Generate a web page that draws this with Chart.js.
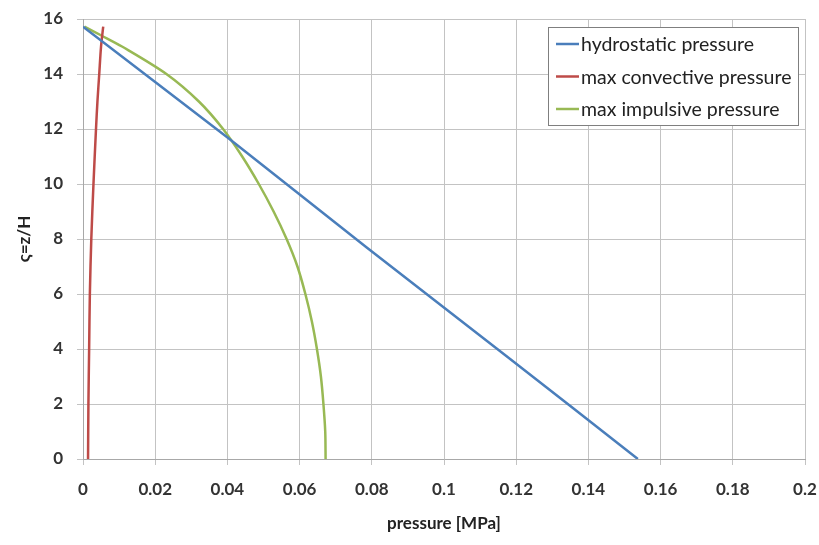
<!DOCTYPE html>
<html lang="en">
<head>
    <meta charset="UTF-8">
    <script src="https://cdn.jsdelivr.net/npm/chart.js"></script>
    <title>Pressure distribution</title>
    <style>
        body { margin: 0; background: #fff; }
        #wrap { width: 819px; height: 545px; }
    </style>
</head>
<body>
    <div id="wrap"><canvas id="pChart" width="819" height="545"></canvas></div>
    <script>
        // series labels
        var seriesNames = ['hydrostatic pressure', 'max convective pressure', 'max impulsive pressure'];

        // hydrostatic pressure (straight line)
        var hydroP = [0, 0.0403, 0.0785, 0.1177, 0.1537];
        var hydroZ = [15.72, 11.66, 7.7, 3.7, 0];

        // max convective pressure
        var convP = [0.0014, 0.0015, 0.0017, 0.0019, 0.0023, 0.0029, 0.0036, 0.0040, 0.0045, 0.0050, 0.0056];
        var convZ = [0, 2, 4, 6, 8, 10, 12, 13, 14, 15, 15.72];

        // max impulsive pressure (top to bottom)
        var impP = [0.0004, 0.0051, 0.0108, 0.0231, 0.0321, 0.0388, 0.0441, 0.0487, 0.0528, 0.0564, 0.0594, 0.0616, 0.0634, 0.0648, 0.0659, 0.0666, 0.0671, 0.0672];
        var impZ = [15.72, 15.4, 15, 14, 13, 12, 11, 10, 9, 8, 7, 6, 5, 4, 3, 2, 1, 0];

        var xTicks = [0, 0.02, 0.04, 0.06, 0.08, 0.1, 0.12, 0.14, 0.16, 0.18, 0.2];
        var yTicks = [0, 2, 4, 6, 8, 10, 12, 14, 16];

        var colors = ['#4a7ebb', '#be4b48', '#98b954'];

        function toPoints(xs, ys) {
            return xs.map(function (x, i) { return {x: x, y: ys[i]}; });
        }

        // legend drawn inside the plot area, excel style
        var boxLegend = {
            id: 'boxLegend',
            afterDraw: function (chart) {
                var c = chart.ctx;
                var left = 548, top = 27, w = 250, h = 98;
                c.save();
                c.fillStyle = '#fff';
                c.fillRect(left, top, w, h);
                c.strokeStyle = '#7f7f7f';
                c.lineWidth = 1;
                c.strokeRect(left + 0.5, top + 0.5, w, h);
                c.font = '19.5px Lato';
                c.textBaseline = 'middle';
                chart.data.datasets.forEach(function (ds, i) {
                    var y = 44 + i * 32.5;
                    c.strokeStyle = ds.borderColor;
                    c.lineWidth = 2.5;
                    c.beginPath();
                    c.moveTo(556, y);
                    c.lineTo(579, y);
                    c.stroke();
                    c.fillStyle = '#222';
                    c.fillText(ds.label, 581, y + 1);
                });
                c.restore();
            }
        };

        var ctx = document.getElementById('pChart').getContext('2d');
        var chart = new Chart(ctx, {
            type: 'scatter',
            data: {
                datasets: [
                    {label: seriesNames[0], data: toPoints(hydroP, hydroZ)},
                    {label: seriesNames[1], data: toPoints(convP, convZ)},
                    {label: seriesNames[2], data: toPoints(impP, impZ)}
                ].map(function (d, i) {
                    d.borderColor = colors[i];
                    d.backgroundColor = colors[i];
                    d.borderWidth = 2.5;
                    d.showLine = true;
                    d.tension = 0.3;
                    d.pointRadius = 0;
                    return d;
                })
            },
            options: {
                responsive: false,
                animation: false,
                layout: {padding: {top: 19, right: 14, left: 0, bottom: 0}},
                plugins: {
                    legend: {display: false},
                    tooltip: {enabled: false}
                },
                scales: {
                    x: {
                        type: 'linear',
                        min: 0, max: 0.2,
                        afterBuildTicks: function (s) { s.ticks = xTicks.map(function (v) { return {value: v}; }); },
                        afterFit: function (s) {
                            s.height = 86;
                            s.paddingLeft = 0;
                            s.paddingRight = 0;
                        },
                        grid: {color: '#c3c3c3', tickLength: 6},
                        border: {color: '#a8a8a8'},
                        ticks: {
                            color: '#333',
                            font: {family: 'Lato', size: 17, weight: 'bold'},
                            padding: 14,
                            maxRotation: 0,
                            callback: function (v) { return String(+v.toFixed(2)); }
                        },
                        title: {
                            display: true,
                            text: 'pressure [MPa]',
                            color: '#222',
                            font: {family: 'Lato', size: 17, weight: 'bold'},
                            padding: {top: 4, bottom: 11}
                        }
                    },
                    y: {
                        type: 'linear',
                        min: 0, max: 16,
                        afterBuildTicks: function (s) { s.ticks = yTicks.map(function (v) { return {value: v}; }); },
                        afterFit: function (s) {
                            s.width = 83;
                            s.paddingTop = 0;
                            s.paddingBottom = 0;
                        },
                        grid: {color: '#c3c3c3', tickLength: 6},
                        border: {color: '#a8a8a8'},
                        ticks: {
                            color: '#333',
                            font: {family: 'Lato', size: 17, weight: 'bold'},
                            padding: 14
                        },
                        title: {
                            display: true,
                            text: 'ς=z/H',
                            color: '#222',
                            font: {family: 'Lato', size: 17, weight: 'bold'},
                            padding: {bottom: 0, top: 14}
                        }
                    }
                }
            },
            plugins: [boxLegend]
        });
    </script>
</body>
</html>
